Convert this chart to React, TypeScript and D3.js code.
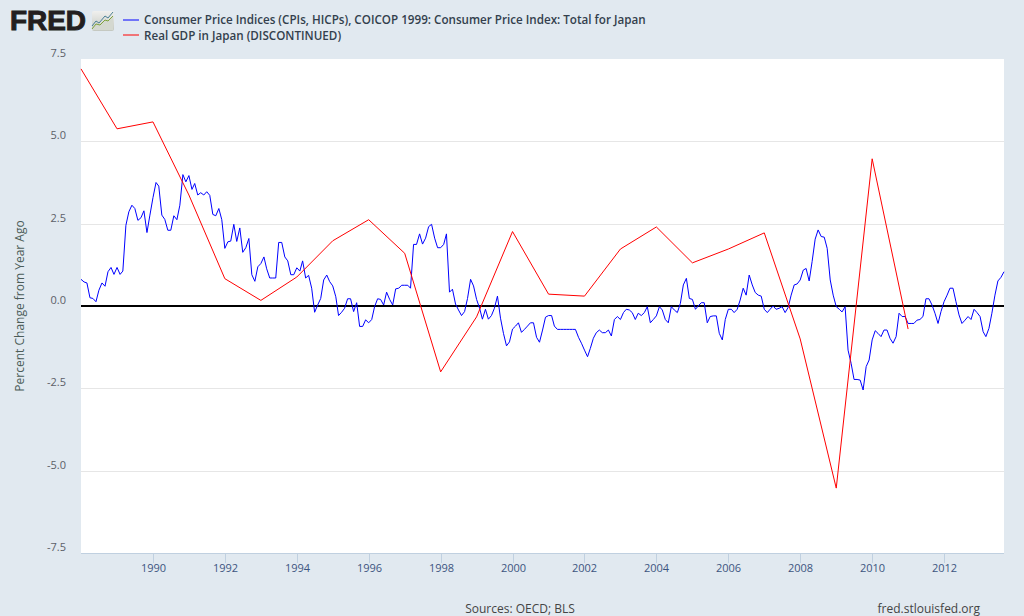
import React from "react";
import * as d3 from "d3";

const cpiStart = [1988, 0];
const cpiValues = [
0.81,0.73,0.70,0.25,0.23,0.13,0.48,0.70,0.60,1.04,1.17,0.96,1.17,0.96,1.06,2.45,2.86,3.06,2.96,2.60,2.68,2.89,2.23,2.76,3.29,3.75,3.64,2.76,2.63,2.30,2.30,2.74,2.62,3.06,3.99,3.77,3.96,3.54,3.72,3.37,3.44,3.37,3.47,3.36,2.78,2.74,2.96,2.62,1.75,1.95,1.97,2.48,1.96,2.37,1.63,1.77,2.05,0.95,0.75,1.19,1.29,1.49,1.13,0.85,0.85,0.85,1.93,1.93,1.49,1.37,0.95,0.95,1.16,1.06,1.37,0.85,0.93,
0.54,-0.19,0.03,0.23,0.79,0.94,0.74,0.61,0.28,-0.29,-0.19,-0.07,0.22,0.22,-0.17,0.10,-0.62,-0.62,-0.42,-0.51,-0.41,-0.02,0.22,0.20,0.03,0.42,0.20,0.03,0.52,0.54,0.63,0.63,0.63,0.54,1.87,1.87,2.19,1.88,2.06,2.41,2.48,2.06,1.77,1.77,1.87,2.19,0.42,0.51,0.06,-0.12,-0.29,-0.17,0.23,0.81,0.61,0.20,-0.07,-0.40,-0.10,-0.40,-0.29,-0.07,0.30,-0.37,-0.83,-1.21,-1.09,-0.70,-0.61,-0.51,-0.80,-0.71,-0.61,-0.51,-0.51,
-0.95,-1.10,-0.73,-0.34,-0.29,-0.29,-0.61,-0.71,-0.71,-0.71,-0.71,-0.71,-0.71,-0.71,-0.95,-1.13,-1.34,-1.54,-1.29,-0.98,-0.81,-0.73,-0.81,-0.81,-0.73,-0.91,-0.41,-0.32,-0.41,-0.20,-0.10,-0.12,-0.20,-0.41,-0.22,-0.29,-0.20,-0.02,-0.51,-0.41,-0.30,-0.02,-0.12,-0.41,-0.51,-0.02,-0.12,-0.20,0.08,0.64,0.84,0.23,0.20,-0.10,0,0.10,0.10,-0.51,-0.32,-0.30,-0.30,-0.83,-1.03,-0.41,-0.10,-0.10,-0.20,-0.10,0.18,0.54,0.33,0.94,0.64,0.41,0.33,0.30,-0.10,-0.20,-0.10,0,-0.10,
-0.07,-0.02,-0.20,-0.04,0.33,0.64,0.67,0.79,1.09,1.14,0.76,1.35,2.03,2.31,2.11,2.09,1.75,0.79,0.33,-0.02,-0.10,-0.18,-0.02,-1.34,-1.74,-2.23,-2.23,-2.25,-2.55,-1.84,-1.64,-1.03,-0.75,-0.83,-0.93,-0.73,-0.73,-0.98,-1.13,-0.93,-0.22,-0.32,-0.32,-0.53,-0.53,-0.53,-0.43,-0.41,-0.32,0.22,0.22,0.03,-0.22,-0.53,-0.17,0.13,0.33,0.54,0.54,0.13,-0.27,-0.53,-0.43,-0.32,-0.41,-0.10,-0.20,-0.32,-0.78,-0.93,-0.68,-0.22,0.33,0.76,0.87,1.04,
];
const gdpYears = [1988,1989,1990,1991,1992,1993,1994,1995,1996,1997,1998,1999,2000,2001,2002,2003,2004,2005,2006,2007,2008,2009,2010,2011];
const gdpValues = [7.2,5.38,5.59,3.37,0.83,0.17,0.88,1.98,2.62,1.60,-2.0,-0.33,2.26,0.36,0.30,1.73,2.40,1.31,1.73,2.22,-1.0,-5.53,4.47,-0.7];
const yTicks = [-7.5,-5,-2.5,0,2.5,5,7.5];
const xTickYears = [1990,1992,1994,1996,1998,2000,2002,2004,2006,2008,2010,2012];
const legendLabels = ["Consumer Price Indices (CPIs, HICPs), COICOP 1999: Consumer Price Index: Total for Japan","Real GDP in Japan (DISCONTINUED)"];
const legendColors = ["#0000ff","#ff0000"];

const W = 1024, H = 616;
const L = 81, R = 1004, T = 59, B = 553;
const FONT = "'Open Sans', sans-serif";

export default function App() {
  const x = d3.scaleTime().domain([new Date(1988,0,1), new Date(2013,8,1)]).range([L,R]);
  const y = d3.scaleLinear().domain([-7.5,7.5]).range([B,T]);
  const cpi = cpiValues.map((v,i)=>({d:new Date(cpiStart[0],cpiStart[1]+i,1),v}));
  const gdp = gdpValues.map((v,i)=>({d:new Date(gdpYears[i],0,1),v}));
  const line = d3.line<{d:Date;v:number}>().x(p=>x(p.d)).y(p=>y(p.v));
  return (
    <svg width={W} height={H} style={{position:"fixed",left:0,top:0,display:"block"}} fontFamily={FONT}>
      <defs>
        <linearGradient id="ic" x1="0" y1="0" x2="0" y2="1">
          <stop offset="0" stopColor="#f0f0ee"/><stop offset="1" stopColor="#c4c8c0"/>
        </linearGradient>
      </defs>
      <rect width={W} height={H} fill="#e1e9f0"/>
      <rect x={L} y={T} width={R-L} height={B-T} fill="#ffffff"/>
      {yTicks.slice(1,-1).filter(t=>t!==0).map(t=>(
        <line key={t} x1={L} x2={R} y1={Math.round(y(t))+0.5} y2={Math.round(y(t))+0.5} stroke="#e6e6e6"/>
      ))}
      <line x1={L} x2={R} y1={B+0.5} y2={B+0.5} stroke="#c0d0e0"/>
      {xTickYears.map(t=>{
        const px=Math.round(x(new Date(t,0,1)))+0.5;
        return <g key={t}>
          <line x1={px} x2={px} y1={B} y2={B+10} stroke="#c0d0e0"/>
          <text x={px} y={572} textAnchor="middle" fontSize={11} fill="#3d5580">{t}</text>
        </g>;
      })}
      {yTicks.map(t=>(
        <text key={t} x={66} y={y(t)-2} textAnchor="end" fontSize={11} fill="#5c6068">{t.toFixed(1)}</text>
      ))}
      <text transform="translate(24,306) rotate(-90)" textAnchor="middle" fontSize={12} fill="#4b5c58">Percent Change from Year Ago</text>
      <line x1={L} x2={R} y1={y(0)} y2={y(0)} stroke="#000000" strokeWidth={2}/>
      <path d={line(cpi)!} fill="none" stroke="#0000ff" strokeWidth={1}/>
      <path d={line(gdp)!} fill="none" stroke="#ff0000" strokeWidth={1}/>
      {legendLabels.map((s,i)=>(
        <g key={s}>
          <line x1={123} x2={139} y1={20+i*15} y2={20+i*15} stroke={legendColors[i]} strokeWidth={1}/>
          <text x={144} y={24+i*15.5} fontSize={11.65} fontWeight={600} fill="#333f4d">{s}</text>
        </g>
      ))}
      <text x={10} y={30} fontFamily="'Liberation Sans', Arial, sans-serif" fontWeight={700} fontSize={28} fill="#231f20" stroke="#231f20" strokeWidth={1} textLength={76} lengthAdjust="spacingAndGlyphs">FRED</text>
      <rect x={92} y={11} width={22} height={20} rx={2} fill="url(#ic)"/>
      <polygon points="92,29 96,24 100,25 105,20 108,21 113,16 113,30 92,30" fill="#d4d8d0"/>
      <polyline points="92,26 96,21 99,23 105,16 108,18 113,12" fill="none" stroke="#4a7f94" strokeWidth={1}/>
      <polyline points="92,29 96,24 100,25 105,20 108,21 113,16" fill="none" stroke="#7ea23c" strokeWidth={1}/>
      <text x={520} y={613} textAnchor="middle" fontSize={12} fill="#444444">Sources: OECD; BLS</text>
      <text x={980} y={613} textAnchor="end" fontSize={12} fill="#444444">fred.stlouisfed.org</text>
    </svg>
  );
}
